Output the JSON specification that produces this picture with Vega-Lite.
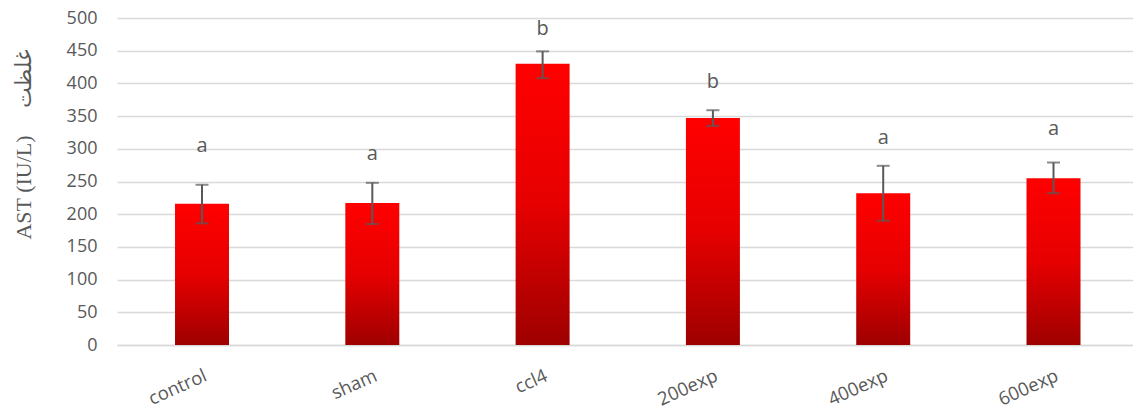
{
  "$schema": "https://vega.github.io/schema/vega-lite/v6.json",
  "width": 1016,
  "height": 327,
  "autosize": {"type": "none"},
  "padding": {"left": 117, "top": 18, "right": 0, "bottom": 67},
  "background": "white",
  "config": {
    "view": {"stroke": null},
    "axisY": {
      "tickCount": 10, "labelOverlap": false,
      "grid": true, "gridColor": "#D9D9D9", "gridWidth": 1.5,
      "domain": false, "ticks": false,
      "labelFont": "Open Sans", "labelFontSize": 18, "labelColor": "#595959", "labelPadding": 20,
      "titleFont": "Liberation Serif, DejaVu Sans", "titleFontSize": 22,
      "titleFontWeight": "normal", "titleColor": "#595959",
      "titleX": -94, "titleY": 126, "titleBaseline": "middle", "titleAlign": "center", "titleAngle": -90
    }
  },
  "data": {"values": [
    {"group": "control", "value": 216, "low": 186, "high": 245, "letter": "a", "label_y": 295},
    {"group": "sham", "value": 217, "low": 185, "high": 248, "letter": "a", "label_y": 283},
    {"group": "ccl4", "value": 430, "low": 408, "high": 449, "letter": "b", "label_y": 474},
    {"group": "200exp", "value": 347, "low": 335, "high": 359, "letter": "b", "label_y": 393},
    {"group": "400exp", "value": 232, "low": 190, "high": 274, "letter": "a", "label_y": 307},
    {"group": "600exp", "value": 255, "low": 232, "high": 279, "letter": "a", "label_y": 321}
  ]},
  "encoding": {
    "x": {
      "field": "group", "type": "nominal", "sort": null,
      "scale": {"paddingInner": 0.683, "paddingOuter": 0.3245, "align": 0.525},
      "axis": {
        "title": null, "labelAngle": -24, "labelAlign": "right", "labelBaseline": "top",
        "labelFont": "Open Sans", "labelFontSize": 18.5, "labelColor": "#595959",
        "labelPadding": 21, "ticks": false, "domain": true, "domainColor": "#D9D9D9", "domainWidth": 1.5
      }
    }
  },
  "layer": [
    {
      "mark": {"type": "bar", "color": {"gradient": "linear", "x1": 0, "y1": 0, "x2": 0, "y2": 1,
        "stops": [{"offset": 0, "color": "#FF0000"}, {"offset": 0.5, "color": "#E60000"}, {"offset": 1, "color": "#9E0000"}]}},
      "encoding": {
        "y": {
          "field": "value", "type": "quantitative", "title": "AST (IU/L)\u2003 غلظت",
          "scale": {"domain": [0, 500], "nice": false}
        }
      }
    },
    {
      "mark": {"type": "errorbar", "ticks": {"size": 13, "thickness": 2, "color": "#595959"}, "thickness": 2, "color": "#595959"},
      "encoding": {
        "y": {"field": "low", "type": "quantitative", "title": "AST (IU/L)\u2003 غلظت"},
        "y2": {"field": "high"}
      }
    },
    {
      "mark": {"type": "text", "font": "Open Sans", "fontSize": 20, "color": "#595959", "baseline": "alphabetic", "align": "center"},
      "encoding": {
        "y": {"field": "label_y", "type": "quantitative", "title": "AST (IU/L)\u2003 غلظت"},
        "text": {"field": "letter"}
      }
    }
  ]
}
